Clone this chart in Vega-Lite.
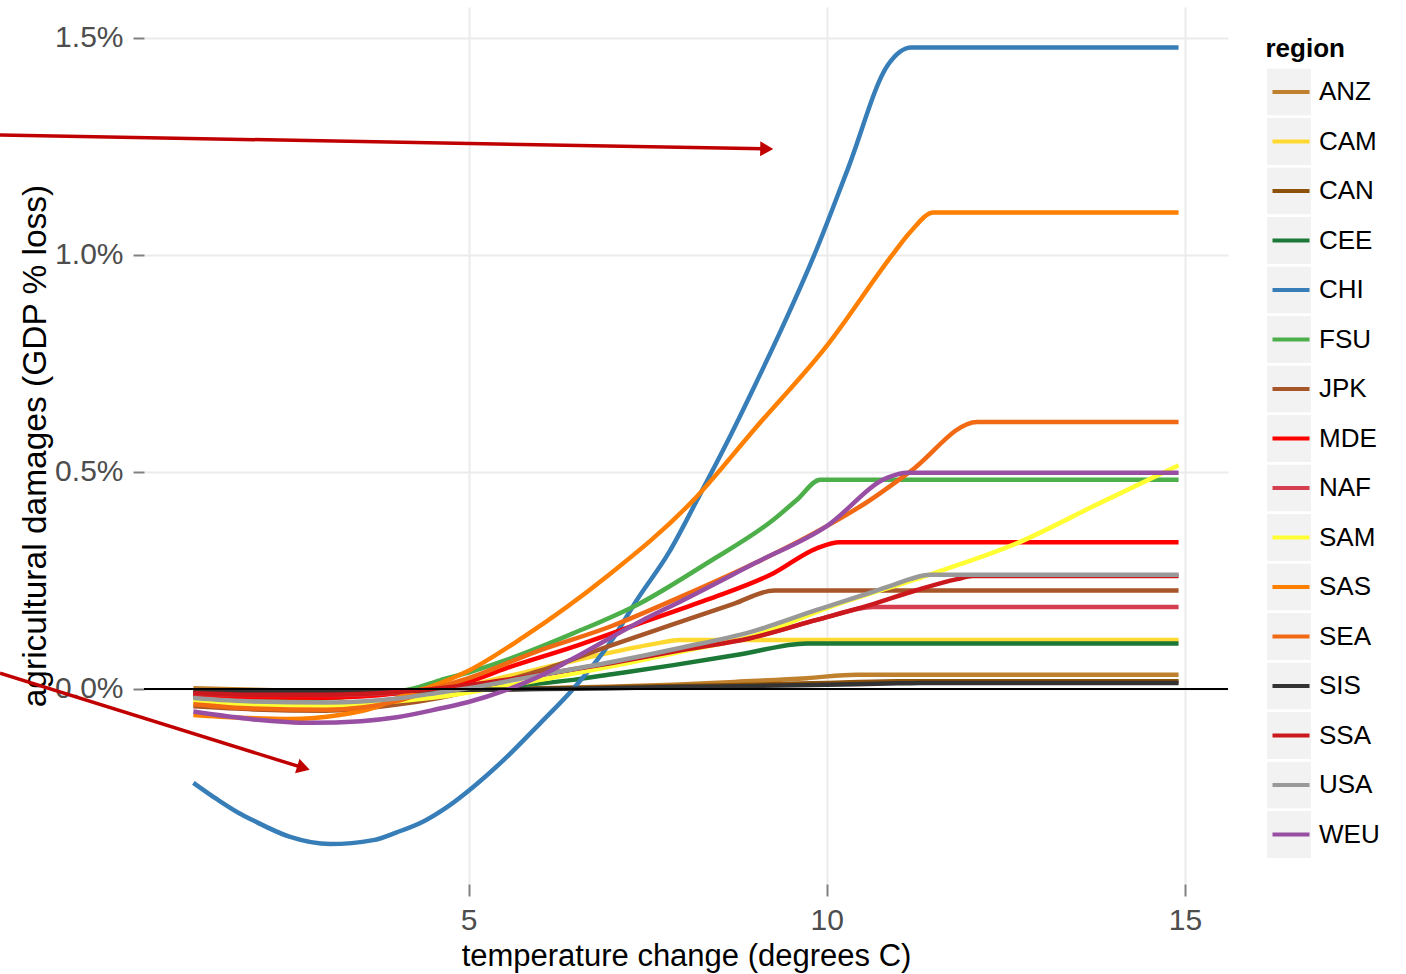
{
  "$schema": "https://vega.github.io/schema/vega-lite/v6.json",
  "width": 1084,
  "height": 877,
  "autosize": {"type": "none"},
  "padding": {"left": 144, "top": 7, "right": 178, "bottom": 90},
  "background": "white",
  "config": {"font": "Liberation Sans", "view": {"stroke": null}},
  "datasets": {
    "series": [
      {"region":"ANZ","temp":1.16,"damage":0.002},{"region":"ANZ","temp":2,"damage":-0.002},{"region":"ANZ","temp":3,"damage":-0.004},{"region":"ANZ","temp":4,"damage":-0.004},{"region":"ANZ","temp":5,"damage":-0.002},{"region":"ANZ","temp":6,"damage":0.002},{"region":"ANZ","temp":6.93,"damage":0.005},{"region":"ANZ","temp":7.86,"damage":0.01},{"region":"ANZ","temp":8.79,"damage":0.017},{"region":"ANZ","temp":9.72,"damage":0.025},{"region":"ANZ","temp":10.42,"damage":0.033},{"region":"ANZ","temp":14.91,"damage":0.033},
      {"region":"CAM","temp":1.16,"damage":-0.03},{"region":"CAM","temp":2,"damage":-0.037},{"region":"CAM","temp":3,"damage":-0.038},{"region":"CAM","temp":4,"damage":-0.026},{"region":"CAM","temp":4.6,"damage":-0.006},{"region":"CAM","temp":5,"damage":0.008},{"region":"CAM","temp":5.93,"damage":0.044},{"region":"CAM","temp":6.93,"damage":0.082},{"region":"CAM","temp":7.63,"damage":0.105},{"region":"CAM","temp":7.95,"damage":0.113},{"region":"CAM","temp":14.91,"damage":0.113},
      {"region":"CAN","temp":1.16,"damage":-0.004},{"region":"CAN","temp":2,"damage":-0.006},{"region":"CAN","temp":3,"damage":-0.007},{"region":"CAN","temp":4,"damage":-0.005},{"region":"CAN","temp":5,"damage":-0.002},{"region":"CAN","temp":6,"damage":0.001},{"region":"CAN","temp":7,"damage":0.004},{"region":"CAN","temp":8,"damage":0.007},{"region":"CAN","temp":9,"damage":0.01},{"region":"CAN","temp":10,"damage":0.014},{"region":"CAN","temp":11,"damage":0.018},{"region":"CAN","temp":14.91,"damage":0.018},
      {"region":"CEE","temp":1.16,"damage":-0.012},{"region":"CEE","temp":2,"damage":-0.016},{"region":"CEE","temp":3,"damage":-0.016},{"region":"CEE","temp":4,"damage":-0.01},{"region":"CEE","temp":5,"damage":0.0},{"region":"CEE","temp":5.53,"damage":0.006},{"region":"CEE","temp":6.46,"damage":0.021},{"region":"CEE","temp":7,"damage":0.034},{"region":"CEE","temp":7.86,"damage":0.055},{"region":"CEE","temp":8.8,"damage":0.08},{"region":"CEE","temp":9.72,"damage":0.105},{"region":"CEE","temp":14.91,"damage":0.105},
      {"region":"CHI","temp":1.16,"damage":-0.216},{"region":"CHI","temp":1.5,"damage":-0.255},{"region":"CHI","temp":1.8,"damage":-0.286},{"region":"CHI","temp":2.0,"damage":-0.303},{"region":"CHI","temp":2.5,"damage":-0.34},{"region":"CHI","temp":3.07,"damage":-0.357},{"region":"CHI","temp":3.67,"damage":-0.348},{"region":"CHI","temp":4.0,"damage":-0.33},{"region":"CHI","temp":4.37,"damage":-0.305},{"region":"CHI","temp":4.7,"damage":-0.272},{"region":"CHI","temp":5.07,"damage":-0.225},{"region":"CHI","temp":5.5,"damage":-0.162},{"region":"CHI","temp":6.0,"damage":-0.079},{"region":"CHI","temp":6.46,"damage":0.0},{"region":"CHI","temp":7.0,"damage":0.112},{"region":"CHI","temp":7.35,"damage":0.205},{"region":"CHI","temp":7.8,"damage":0.315},{"region":"CHI","temp":8.19,"damage":0.435},{"region":"CHI","temp":8.6,"damage":0.565},{"region":"CHI","temp":9.0,"damage":0.7},{"region":"CHI","temp":9.4,"damage":0.84},{"region":"CHI","temp":9.84,"damage":1.005},{"region":"CHI","temp":10.3,"damage":1.2},{"region":"CHI","temp":10.85,"damage":1.436},{"region":"CHI","temp":11.18,"damage":1.477},{"region":"CHI","temp":14.91,"damage":1.477},
      {"region":"FSU","temp":1.16,"damage":-0.018},{"region":"FSU","temp":2,"damage":-0.024},{"region":"FSU","temp":3,"damage":-0.022},{"region":"FSU","temp":3.7,"damage":-0.01},{"region":"FSU","temp":4.2,"damage":0.0},{"region":"FSU","temp":4.6,"damage":0.02},{"region":"FSU","temp":5.0,"damage":0.038},{"region":"FSU","temp":5.53,"damage":0.067},{"region":"FSU","temp":6.46,"damage":0.128},{"region":"FSU","temp":7.39,"damage":0.197},{"region":"FSU","temp":8.32,"damage":0.289},{"region":"FSU","temp":9.25,"damage":0.389},{"region":"FSU","temp":9.58,"damage":0.435},{"region":"FSU","temp":9.91,"damage":0.482},{"region":"FSU","temp":14.91,"damage":0.482},
      {"region":"JPK","temp":1.16,"damage":-0.04},{"region":"JPK","temp":2,"damage":-0.047},{"region":"JPK","temp":3,"damage":-0.05},{"region":"JPK","temp":4,"damage":-0.036},{"region":"JPK","temp":4.6,"damage":-0.02},{"region":"JPK","temp":5,"damage":-0.006},{"region":"JPK","temp":5.5,"damage":0.018},{"region":"JPK","temp":6,"damage":0.042},{"region":"JPK","temp":6.93,"damage":0.097},{"region":"JPK","temp":7.8,"damage":0.146},{"region":"JPK","temp":8.7,"damage":0.196},{"region":"JPK","temp":9.27,"damage":0.227},{"region":"JPK","temp":14.91,"damage":0.227},
      {"region":"MDE","temp":1.16,"damage":-0.012},{"region":"MDE","temp":2,"damage":-0.019},{"region":"MDE","temp":3,"damage":-0.02},{"region":"MDE","temp":4,"damage":-0.01},{"region":"MDE","temp":4.6,"damage":0.005},{"region":"MDE","temp":5,"damage":0.017},{"region":"MDE","temp":5.53,"damage":0.048},{"region":"MDE","temp":6.46,"damage":0.097},{"region":"MDE","temp":7.39,"damage":0.151},{"region":"MDE","temp":8.32,"damage":0.205},{"region":"MDE","temp":9.25,"damage":0.266},{"region":"MDE","temp":9.86,"damage":0.324},{"region":"MDE","temp":10.18,"damage":0.338},{"region":"MDE","temp":14.91,"damage":0.338},
      {"region":"NAF","temp":1.16,"damage":-0.01},{"region":"NAF","temp":2,"damage":-0.014},{"region":"NAF","temp":3,"damage":-0.014},{"region":"NAF","temp":4,"damage":-0.008},{"region":"NAF","temp":5,"damage":0.008},{"region":"NAF","temp":6,"damage":0.032},{"region":"NAF","temp":7,"damage":0.06},{"region":"NAF","temp":8,"damage":0.09},{"region":"NAF","temp":9,"damage":0.12},{"region":"NAF","temp":9.86,"damage":0.159},{"region":"NAF","temp":10.65,"damage":0.189},{"region":"NAF","temp":14.91,"damage":0.189},
      {"region":"SAM","temp":1.16,"damage":-0.029},{"region":"SAM","temp":2,"damage":-0.037},{"region":"SAM","temp":3,"damage":-0.038},{"region":"SAM","temp":4,"damage":-0.028},{"region":"SAM","temp":4.6,"damage":-0.018},{"region":"SAM","temp":5,"damage":-0.008},{"region":"SAM","temp":5.5,"damage":0.006},{"region":"SAM","temp":6,"damage":0.021},{"region":"SAM","temp":7,"damage":0.052},{"region":"SAM","temp":8,"damage":0.087},{"region":"SAM","temp":8.93,"damage":0.12},{"region":"SAM","temp":10.05,"damage":0.189},{"region":"SAM","temp":11.5,"damage":0.267},{"region":"SAM","temp":12.66,"damage":0.336},{"region":"SAM","temp":13.81,"damage":0.428},{"region":"SAM","temp":14.91,"damage":0.515},
      {"region":"SAS","temp":1.16,"damage":-0.06},{"region":"SAS","temp":1.8,"damage":-0.066},{"region":"SAS","temp":2.5,"damage":-0.069},{"region":"SAS","temp":3.2,"damage":-0.06},{"region":"SAS","temp":3.7,"damage":-0.042},{"region":"SAS","temp":4.14,"damage":-0.012},{"region":"SAS","temp":4.37,"damage":0.0},{"region":"SAS","temp":4.6,"damage":0.013},{"region":"SAS","temp":5.0,"damage":0.042},{"region":"SAS","temp":5.77,"damage":0.12},{"region":"SAS","temp":6.93,"damage":0.259},{"region":"SAS","temp":8.14,"damage":0.435},{"region":"SAS","temp":9.0,"damage":0.6},{"region":"SAS","temp":10.0,"damage":0.79},{"region":"SAS","temp":10.94,"damage":1.005},{"region":"SAS","temp":11.16,"damage":1.051},{"region":"SAS","temp":11.49,"damage":1.097},{"region":"SAS","temp":14.91,"damage":1.097},
      {"region":"SEA","temp":1.16,"damage":-0.035},{"region":"SEA","temp":2,"damage":-0.045},{"region":"SEA","temp":3,"damage":-0.048},{"region":"SEA","temp":4,"damage":-0.028},{"region":"SEA","temp":4.6,"damage":0.005},{"region":"SEA","temp":5,"damage":0.025},{"region":"SEA","temp":5.93,"damage":0.085},{"region":"SEA","temp":7,"damage":0.145},{"region":"SEA","temp":8,"damage":0.215},{"region":"SEA","temp":9,"damage":0.29},{"region":"SEA","temp":10,"damage":0.375},{"region":"SEA","temp":10.56,"damage":0.43},{"region":"SEA","temp":11.16,"damage":0.5},{"region":"SEA","temp":12.1,"damage":0.615},{"region":"SEA","temp":14.91,"damage":0.615},
      {"region":"SIS","temp":1.16,"damage":-0.004},{"region":"SIS","temp":2,"damage":-0.006},{"region":"SIS","temp":3,"damage":-0.006},{"region":"SIS","temp":4,"damage":-0.004},{"region":"SIS","temp":5,"damage":-0.002},{"region":"SIS","temp":6,"damage":0.0},{"region":"SIS","temp":7,"damage":0.002},{"region":"SIS","temp":8,"damage":0.005},{"region":"SIS","temp":9,"damage":0.007},{"region":"SIS","temp":10,"damage":0.01},{"region":"SIS","temp":11,"damage":0.013},{"region":"SIS","temp":11.3,"damage":0.014},{"region":"SIS","temp":14.91,"damage":0.014},
      {"region":"SSA","temp":1.16,"damage":-0.009},{"region":"SSA","temp":2,"damage":-0.013},{"region":"SSA","temp":3,"damage":-0.013},{"region":"SSA","temp":4,"damage":-0.007},{"region":"SSA","temp":5,"damage":0.009},{"region":"SSA","temp":6,"damage":0.033},{"region":"SSA","temp":7,"damage":0.06},{"region":"SSA","temp":8,"damage":0.09},{"region":"SSA","temp":8.93,"damage":0.117},{"region":"SSA","temp":9.86,"damage":0.159},{"region":"SSA","temp":10.6,"damage":0.193},{"region":"SSA","temp":11.26,"damage":0.228},{"region":"SSA","temp":11.82,"damage":0.253},{"region":"SSA","temp":12.04,"damage":0.26},{"region":"SSA","temp":14.91,"damage":0.26},
      {"region":"USA","temp":1.16,"damage":-0.021},{"region":"USA","temp":2,"damage":-0.029},{"region":"USA","temp":3,"damage":-0.031},{"region":"USA","temp":4,"damage":-0.022},{"region":"USA","temp":4.6,"damage":-0.008},{"region":"USA","temp":5,"damage":0.002},{"region":"USA","temp":6,"damage":0.032},{"region":"USA","temp":7,"damage":0.062},{"region":"USA","temp":8,"damage":0.096},{"region":"USA","temp":8.93,"damage":0.131},{"region":"USA","temp":9.86,"damage":0.182},{"region":"USA","temp":10.88,"damage":0.237},{"region":"USA","temp":11.16,"damage":0.253},{"region":"USA","temp":11.44,"damage":0.263},{"region":"USA","temp":14.91,"damage":0.263},
      {"region":"WEU","temp":1.16,"damage":-0.052},{"region":"WEU","temp":2,"damage":-0.07},{"region":"WEU","temp":2.8,"damage":-0.078},{"region":"WEU","temp":3.5,"damage":-0.074},{"region":"WEU","temp":4,"damage":-0.065},{"region":"WEU","temp":4.6,"damage":-0.045},{"region":"WEU","temp":5,"damage":-0.03},{"region":"WEU","temp":5.53,"damage":-0.002},{"region":"WEU","temp":6,"damage":0.03},{"region":"WEU","temp":6.46,"damage":0.07},{"region":"WEU","temp":7.39,"damage":0.155},{"region":"WEU","temp":8,"damage":0.205},{"region":"WEU","temp":9,"damage":0.29},{"region":"WEU","temp":10,"damage":0.375},{"region":"WEU","temp":10.84,"damage":0.486},{"region":"WEU","temp":11.12,"damage":0.498},{"region":"WEU","temp":14.91,"damage":0.498}
    ],
    "arrows": [
      {"arrow":"upper","x":-1.539,"y":1.2756,"x2":9.162,"y2":1.2436},
      {"arrow":"lower","x":-1.539,"y":0.0362,"x2":2.697,"y2":-0.1817}
    ]
  },
  "layer": [
    {
      "data": {"name": "series"},
      "mark": {"type": "line", "strokeWidth": 4.5, "strokeJoin": "round", "interpolate": "monotone"},
      "encoding": {
        "x": {
          "field": "temp", "type": "quantitative",
          "scale": {"domain": [0.471, 15.6], "nice": false, "zero": false},
          "axis": {
            "title": "temperature change (degrees C)", "values": [5, 10, 15], "format": "d",
            "labelFontSize": 30, "labelColor": "#4D4D4D", "labelPadding": 9, "labelFlush": false,
            "tickSize": 12, "tickWidth": 2, "tickColor": "#808080", "domain": false,
            "grid": true, "gridColor": "#EBEBEB", "gridWidth": 2,
            "titleFontSize": 31, "titleFontWeight": "normal", "titleColor": "black",
            "titleY": 81, "titleBaseline": "alphabetic"
          }
        },
        "y": {
          "field": "damage", "type": "quantitative",
          "scale": {"domain": [-0.449, 1.5703], "nice": false, "zero": false},
          "axis": {
            "title": "agricultural damages (GDP % loss)", "values": [0, 0.5, 1, 1.5],
            "labelExpr": "format(datum.value, '.1f') + '%'",
            "labelFontSize": 30, "labelColor": "#4D4D4D", "labelPadding": 10,
            "tickSize": 11, "tickWidth": 2, "tickColor": "#808080", "domain": false,
            "grid": true, "gridColor": "#EBEBEB", "gridWidth": 2,
            "titleFontSize": 33.5, "titleFontWeight": "normal", "titleColor": "black",
            "titleX": -109, "titleY": 438.5, "titleAngle": 270, "titleBaseline": "middle", "titleAlign": "center"
          }
        },
        "color": {
          "field": "region", "type": "nominal",
          "scale": {
            "domain": ["ANZ","CAM","CAN","CEE","CHI","FSU","JPK","MDE","NAF","SAM","SAS","SEA","SIS","SSA","USA","WEU"],
            "range": ["#BF812D","#FFD92F","#8C510A","#1B7837","#377EB8","#4DAF4A","#A65628","#FF0000","#D53E4F","#FFFF33","#FF7F00","#F16913","#333333","#CB181D","#999999","#984EA3"]
          },
          "legend": {
            "title": "region", "orient": "none", "legendX": 1121.5, "legendY": 28.5, "zindex": 2,
            "symbolType": "M-0.787,0H0.787", "symbolSize": 2209, "symbolStrokeWidth": 4, "clipHeight": 47,
            "labelFontSize": 26, "labelColor": "black", "labelOffset": 2.5, "labelLimit": 200,
            "titleFontSize": 26, "titleFontWeight": "bold", "titleColor": "black", "titlePadding": 7,
            "rowPadding": 2.5, "padding": 0
          }
        }
      }
    },
    {
      "data": {"name": "series"},
      "mark": {"type": "point", "filled": true, "opacity": 0},
      "encoding": {
        "x": {"field": "temp", "type": "quantitative", "scale": {"domain": [0.471, 15.6], "nice": false, "zero": false}},
        "y": {"field": "damage", "type": "quantitative", "scale": {"domain": [-0.449, 1.5703], "nice": false, "zero": false}},
        "fill": {
          "field": "region", "type": "nominal",
          "scale": {"range": ["#F2F2F2"]},
          "legend": {
            "title": "region", "orient": "none", "legendX": 1121.5, "legendY": 28.5, "zindex": 0,
            "symbolType": "M-0.936,-1H0.936V1H-0.936Z", "symbolSize": 2209, "symbolStrokeWidth": 0, "clipHeight": 47,
            "labelFontSize": 26, "labelOpacity": 0, "labelOffset": 2.5, "labelLimit": 200,
            "titleFontSize": 26, "titleFontWeight": "bold", "titleOpacity": 0, "titlePadding": 7,
            "rowPadding": 2.5, "padding": 0
          }
        }
      }
    },
    {
      "data": {"values": [{"level": 0}]},
      "mark": {"type": "rule", "color": "black", "strokeWidth": 2},
      "encoding": {
        "y": {"field": "level", "type": "quantitative", "scale": {"domain": [-0.449, 1.5703], "nice": false, "zero": false}}
      }
    },
    {
      "data": {"name": "arrows"},
      "mark": {"type": "rule", "color": "#C00000", "strokeWidth": 3.5, "clip": false},
      "encoding": {
        "x": {"field": "x", "type": "quantitative", "scale": {"domain": [0.471, 15.6], "nice": false, "zero": false}},
        "y": {"field": "y", "type": "quantitative", "scale": {"domain": [-0.449, 1.5703], "nice": false, "zero": false}},
        "x2": {"field": "x2"},
        "y2": {"field": "y2"}
      }
    },
    {
      "data": {"name": "arrows"},
      "transform": [{"filter": "datum.arrow == 'upper'"}],
      "mark": {"type": "point", "shape": "triangle-right", "filled": true, "opacity": 1, "color": "#C00000", "size": 225, "angle": 1, "clip": false},
      "encoding": {
        "x": {"field": "x2", "type": "quantitative", "scale": {"domain": [0.471, 15.6], "nice": false, "zero": false}},
        "y": {"field": "y2", "type": "quantitative", "scale": {"domain": [-0.449, 1.5703], "nice": false, "zero": false}}
      }
    },
    {
      "data": {"name": "arrows"},
      "transform": [{"filter": "datum.arrow == 'lower'"}],
      "mark": {"type": "point", "shape": "triangle-right", "filled": true, "opacity": 1, "color": "#C00000", "size": 225, "angle": 17, "clip": false},
      "encoding": {
        "x": {"field": "x2", "type": "quantitative", "scale": {"domain": [0.471, 15.6], "nice": false, "zero": false}},
        "y": {"field": "y2", "type": "quantitative", "scale": {"domain": [-0.449, 1.5703], "nice": false, "zero": false}}
      }
    }
  ]
}
